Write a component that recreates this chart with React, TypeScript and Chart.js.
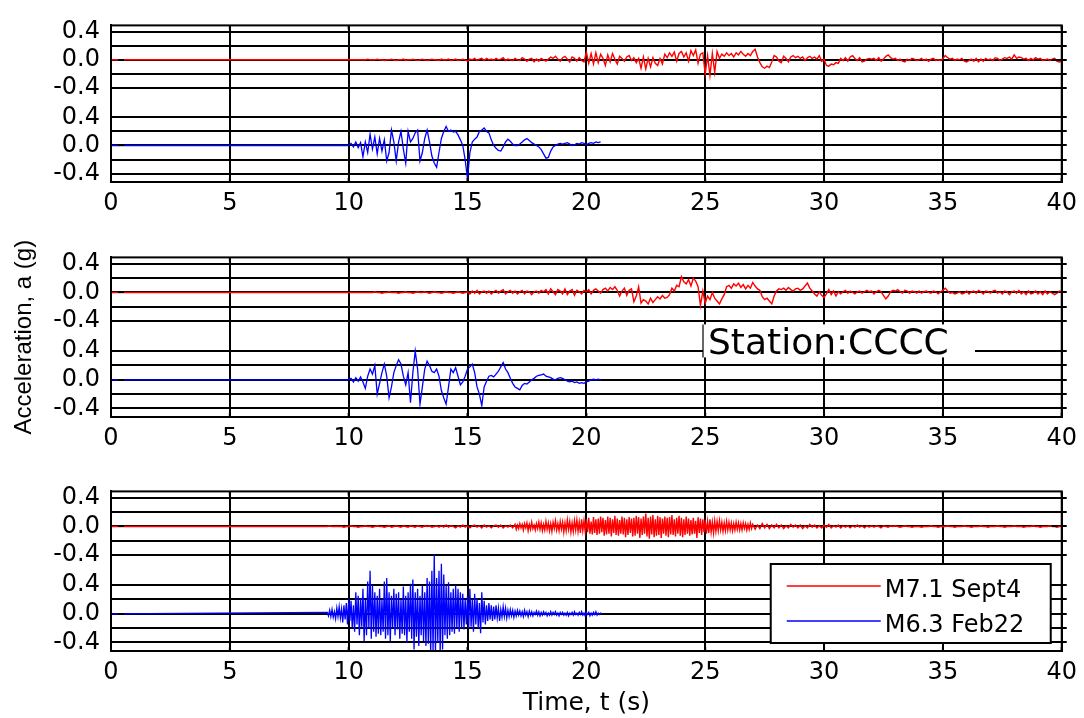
import React, { useEffect, useRef } from "react";
import { Chart, registerables } from "chart.js";

Chart.register(...registerables);

// ---------------- data ----------------
const X_MIN = 0;
const X_MAX = 40;
const X_TICK_STEP = 5;
const Y_MIN = -0.52;
const Y_MAX = 1.71;
const RED_OFFSET = 1.22; // upper (red) band is drawn shifted up by this amount
const BAND_TICKS = [-0.4, -0.2, 0, 0.2, 0.4];
const BAND_TICK_LABELS = ["-0.4", "", "0.0", "", "0.4"];
const SERIES_LABELS = ["M7.1 Sept4", "M6.3 Feb22"];
const SERIES_COLORS = ["#ff0000", "#0000ff"];
const STATION_LABEL = "Station:CCCC";
const X_TITLE = "Time, t (s)";
const Y_TITLE = "Acceleration, a (g)";

// Panel 1 (top)
const p1RedStart = 10.0;
const p1RedStep = 0.1;
const p1Red = [
  0,0,0,0,0,0,0,0,.01,0,
  0,0,.01,0,0,-.01,0,0,.01,0,
  -.01,0,0,.01,-.01,0,0,.01,0,-.01,
  0,.01,0,-.01,0,.01,0,0,-.01,.01,
  0,0,.01,-.01,0,.01,-.01,0,.01,0,
  -.02,.01,0,.02,-.01,.01,.02,-.01,.02,0,
  .01,-.01,.02,0,.01,.03,-.01,.01,0,-.01,
  .02,0,-.01,.03,.01,-.02,.01,.02,-.03,.01,
  -.02,.02,0,-.02,.01,.04,.02,.05,.01,-.02,
  .03,.05,.01,-.03,.04,.02,-.02,.03,-.01,-.03,
  .11,-.05,.09,-.06,.1,-.04,.08,.02,-.08,.07,
  -.03,.09,.01,-.06,.05,.02,-.02,.04,.06,-.01,
  .03,-.04,.02,-.12,.04,-.13,.02,-.1,.03,-.05,
  -.08,.02,-.06,.08,.03,.1,.05,.11,-.02,.09,
  .12,.04,.1,-.02,.13,.06,.14,-.05,.08,.1,
  -.2,.06,-.22,.09,-.18,.12,.02,.08,.05,.1,
  .06,.09,.04,.1,.07,.12,.08,.05,.09,.06,
  .12,.15,.04,-.04,-.1,-.12,-.09,-.11,-.03,.06,
  .04,-.02,-.04,.05,.02,-.03,.04,.06,.03,.05,
  .02,.04,-.01,.03,.05,.02,.04,.01,.06,-.02,
  .01,-.08,-.09,-.06,-.07,-.04,-.05,.02,-.01,.03,
  -.02,.04,.06,.02,-.01,.03,-.03,-.02,.01,.02,
  .01,.02,-.01,.03,-.02,.01,.05,.07,.03,.01,
  .02,-.01,.01,-.02,-.03,.01,-.01,.02,.01,-.01,
  0,.02,-.01,.01,-.02,.01,.02,-.01,0,-.01,
  .02,.06,.03,.01,.02,-.01,.01,0,.02,-.02,
  -.03,-.01,.01,-.02,.02,-.03,.01,-.02,.02,0,
  .01,-.01,.03,.02,-.01,.01,.03,.02,.04,.01,
  .07,.02,.04,.03,.01,.02,-.01,.02,0,.03,
  .01,.02,-.01,0,.01,-.01,.01,.02,-.02,-.03,
  -.02,
];
const p1BlueStart = 10.0;
const p1BlueStep = 0.1;
const p1Blue = [
  0,.03,-.02,.05,-.03,.04,-.16,.05,-.1,.16,
  -.05,.12,-.12,.1,-.08,.08,-.22,-.1,.22,.05,
  -.22,.05,.2,-.05,-.25,.2,.05,.1,.18,.22,
  -.22,-.1,.1,.22,.05,-.15,-.25,-.31,-.1,.1,
  .2,.27,.2,.22,.19,.2,.15,.08,0,-.2,
  -.48,-.1,.05,.09,.12,.2,.22,.25,.2,.18,
  .08,0,-.04,-.07,-.08,-.02,.05,.09,.06,.02,
  0,0,.02,.05,.08,.1,.07,.04,.02,0,
  -.02,-.06,-.12,-.18,-.17,-.08,-.02,0,.02,.03,
  .02,.03,.04,.02,0,.01,.03,.02,.04,.03,
  .01,.03,.04,.03,.05,.04,.05,
];

// Panel 2 (middle)
const p2RedStart = 10.0;
const p2RedStep = 0.1;
const p2Red = [
  0,0,0,0,0,0,0,0,0,0,
  0,.01,0,0,-.01,0,0,.01,0,0,
  0,-.01,0,0,.01,0,0,-.01,0,.01,
  0,0,.01,0,-.01,0,.01,0,0,-.01,
  0,.01,0,0,-.01,0,.01,0,-.01,0,
  .01,-.02,.02,-.01,.03,-.02,.01,.02,-.01,.02,
  -.02,.01,.03,-.01,.02,.04,-.02,.01,.03,-.01,
  .02,-.02,.01,.03,-.02,.02,.01,-.03,.01,.02,
  -.01,.03,.01,.04,-.02,.05,.01,-.03,.04,.02,
  -.02,.05,-.03,.02,.04,-.04,.03,.01,-.02,.03,
  .01,.04,-.02,.03,.05,.02,-.01,.04,.06,.02,
  .07,.04,.08,.03,-.05,.02,.06,-.04,.03,.05,
  -.13,-.05,.08,-.15,-.1,-.12,-.16,-.08,-.14,-.1,
  -.06,-.09,-.04,-.08,-.07,-.03,.06,.02,.1,.08,
  .22,.15,.12,.18,.09,.2,.16,.08,-.18,.02,
  -.15,-.05,-.1,0,-.08,-.12,-.16,-.09,-.03,.08,
  .1,.06,.12,.09,.13,.07,.11,.05,.1,.06,
  .14,.09,.05,.03,-.06,-.1,-.08,-.12,-.16,-.05,
  .02,.05,.04,.06,.03,.07,.04,.02,.05,.06,
  .03,.05,.09,.13,.06,.02,-.02,-.05,.01,-.04,
  -.07,-.02,.04,-.03,.02,-.05,.01,-.02,.01,.03,
  -.01,.02,0,-.02,.01,.02,-.01,.01,.03,.01,
  .02,-.02,.01,.03,.01,-.04,-.09,-.05,.01,.03,
  .02,.04,.01,-.01,.03,.02,-.01,.02,.01,-.01,
  .02,-.01,.01,.02,0,-.01,.02,.01,-.02,.01,
  .03,.06,.02,-.01,0,-.02,-.01,.01,-.02,-.01,
  .02,-.02,.01,.02,-.01,.03,.01,-.02,.02,.01,
  -.01,.02,.03,-.01,.01,-.02,.02,.01,-.03,.01,
  .02,-.01,.03,-.02,.01,-.03,.02,-.02,-.01,.02,
  -.02,.01,-.03,.02,-.02,.01,-.01,-.03,-.01,.02,
  .01,
];
const p2BlueStart = 10.0;
const p2BlueStep = 0.1;
const p2Blue = [
  0,.02,-.03,.03,-.02,.04,-.03,-.12,.05,.15,
  .08,.2,-.2,-.05,.1,.22,.05,-.25,-.1,.1,
  .2,.28,.22,.05,-.07,.1,-.32,.1,.4,.15,
  -.34,-.1,.15,.26,.2,.12,.1,.15,.05,-.15,
  -.25,-.34,-.1,.15,.1,.17,.05,-.07,-.03,.05,
  .15,.18,.22,.1,-.1,-.2,-.36,-.1,-.02,.05,
  .06,.04,.08,.12,.18,.24,.15,.1,.02,-.05,
  -.1,-.12,-.14,-.08,-.05,-.06,-.03,0,.02,.05,
  .06,.07,.08,.05,.04,.03,.01,0,.02,.03,
  .02,0,-.02,-.03,-.02,-.04,-.03,-.05,-.04,-.05,
  -.03,-.02,0,.01,0,.01,0,
];

// Panel 3 (bottom)
const p3RedQuietStart = 9.0;
const p3RedQuietStep = 0.1;
const p3RedQuiet = [
  0,0,.01,0,0,0,0,0,-.01,0,
  0,.01,0,0,-.01,0,0,.01,0,0,
  -.01,0,.01,0,0,-.01,0,.01,-.01,0,
  .01,0,-.01,.01,0,-.01,.01,0,-.01,.01,
  0,-.01,.01,0,.01,-.01,0,.01,-.01,.01,
  -.01,.02,-.01,.01,0,-.02,.01,-.01,.02,-.01,
  .01,-.02,.01,.02,-.01,.01,-.02,.02,-.01,.01,
  -.02,.01,.02,-.01,.02,-.02,.01,-.01,.02,-.02,
];
const p3RedStrongStart = 17.0;
const p3RedStrongStep = 0.05;
const p3RedStrong = [
  .03,-.04,.02,-.03,.04,-.02,.03,-.05,.04,-.02,
  .05,-.06,.03,-.04,.06,-.03,.02,-.05,.04,-.03,
  .06,-.04,.05,-.06,.03,-.05,.07,-.04,.05,-.06,
  .04,-.07,.06,-.03,.08,-.05,.04,-.06,.07,-.04,
  .06,-.08,.05,-.06,.09,-.04,.07,-.08,.05,-.07,
  .08,-.05,.09,-.07,.06,-.09,.1,-.06,.08,-.07,
  .1,-.08,.12,-.1,.07,-.11,.13,-.09,.1,-.12,
  .11,-.1,.14,-.08,.12,-.13,.09,-.11,.14,-.1,
  .12,-.14,.1,-.09,.15,-.12,.11,-.13,.09,-.1,
  .14,-.11,.12,-.15,.1,-.12,.13,-.09,.11,-.14,
  .12,-.13,.15,-.1,.13,-.16,.11,-.12,.14,-.1,
  .18,-.14,.12,-.17,.14,-.11,.16,-.15,.1,-.13,
  .15,-.12,.13,-.16,.11,-.1,.14,-.13,.12,-.15,
  .13,-.11,.16,-.12,.1,-.14,.12,-.1,.15,-.13,
  .12,-.15,.1,-.12,.14,-.1,.11,-.13,.09,-.11,
  .12,-.1,.08,-.16,.13,-.09,.11,-.12,.1,-.08,
  .09,-.1,.07,-.09,.1,-.08,.06,-.09,.08,-.07,
  .07,-.06,.08,-.05,.06,-.07,.05,-.06,.07,-.05,
  .06,-.05,.05,-.06,.04,-.05,.06,-.04,.05,-.05,
  .04,-.05,.05,-.03,.04,-.05,.03,-.04,.05,-.03,
];
const p3RedTailStart = 27.0;
const p3RedTailStep = 0.1;
const p3RedTail = [
  .03,-.04,.02,-.03,.04,-.02,.03,-.03,.02,-.02,
  .03,-.02,.02,-.03,.01,-.02,.03,-.01,.02,-.02,
  .02,-.03,.01,-.02,.03,-.01,.02,-.02,.01,-.02,
  .02,-.01,.03,-.02,.01,-.01,.02,-.02,.01,-.01,
  .01,-.02,.01,-.01,.02,-.01,.01,-.02,.01,-.01,
  .01,-.01,.01,0,-.02,.01,0,-.01,.01,0,
  .01,0,-.01,0,.01,0,0,-.01,0,0,
  0,-.01,0,0,0,.01,0,0,-.01,0,
  0,0,.01,0,0,-.01,0,0,0,.01,
  0,0,-.01,0,0,0,.01,0,0,-.01,
  0,0,0,.01,0,0,-.01,0,0,0,
  .01,0,0,0,-.01,0,0,0,.01,0,
  0,-.01,0,0,0,.01,0,0,-.01,0,
  0,
];
const p3BlueStart = 9.1;
const p3BlueStep = 0.05;
const p3Blue = [
  .02,-.03,.05,-.04,.06,-.05,.03,-.07,.08,-.04,
  .1,-.06,.07,-.12,.12,-.08,.15,-.15,.2,-.1,
  .18,-.2,.12,-.25,.3,-.15,.25,-.3,.22,-.18,
  .35,-.38,.2,-.3,.45,-.2,.6,-.35,.4,-.25,
  .3,-.32,.25,-.28,.35,-.3,.2,-.25,.45,-.35,
  .5,-.3,.3,-.38,.25,-.2,.35,-.3,.28,-.22,
  .3,-.35,.2,-.28,.38,-.3,.25,-.4,.3,-.25,
  .42,-.35,.48,-.5,.3,-.32,.35,-.45,.25,-.3,
  .4,-.38,.3,-.45,.5,-.42,.45,-.55,.6,-.52,
  .83,-.55,.5,-.4,.6,-.55,.7,-.5,.55,-.3,
  .4,-.35,.44,-.3,.3,-.25,.35,-.28,.4,-.2,
  .35,-.25,.3,-.2,.28,-.22,.2,-.15,.25,-.2,
  .35,-.18,.2,-.25,.28,-.15,.22,-.2,.15,-.27,
  .3,-.12,.18,-.15,.12,-.1,.15,-.08,.12,-.1,
  .1,-.08,.12,-.06,.08,-.1,.06,-.05,.1,-.04,
  .08,-.06,.05,-.04,.06,-.03,.05,-.05,.04,-.03,
  .05,-.02,.04,-.03,.03,-.04,.05,-.02,.03,-.04,
  .04,-.02,.03,-.03,.02,-.01,.04,-.02,.03,-.03,
  .02,-.02,.03,-.01,.02,-.03,.01,-.02,.03,-.02,
  .02,-.01,.03,-.02,.01,-.03,.02,-.01,.02,-.02,
  .01,-.02,.02,-.03,.01,-.01,.02,-.02,.03,-.01,
  .01,-.02,.02,-.01,.03,-.02,.01,-.03,.02,-.01,
  .02,-.03,.01,-.02,.02,-.01,.03,-.02,.01,-.01,
  .01,0,
];

// ---------------- helpers ----------------
type Seg = [number, number, number[]];

function tracePoints(segs: Seg[], offset: number) {
  const pts: { x: number; y: number }[] = [{ x: X_MIN, y: offset }];
  segs.forEach(([start, step, vals]) => {
    vals.forEach((v, i) => {
      pts.push({ x: Math.round((start + i * step) * 1000) / 1000, y: v + offset });
    });
  });
  return pts;
}

const PANELS = [
  {
    red: [[p1RedStart, p1RedStep, p1Red]] as Seg[],
    blue: [[p1BlueStart, p1BlueStep, p1Blue]] as Seg[],
  },
  {
    red: [[p2RedStart, p2RedStep, p2Red]] as Seg[],
    blue: [[p2BlueStart, p2BlueStep, p2Blue]] as Seg[],
  },
  {
    red: [
      [p3RedQuietStart, p3RedQuietStep, p3RedQuiet],
      [p3RedStrongStart, p3RedStrongStep, p3RedStrong],
      [p3RedTailStart, p3RedTailStep, p3RedTail],
    ] as Seg[],
    blue: [[p3BlueStart, p3BlueStep, p3Blue]] as Seg[],
  },
];

// layout (pixels)
const LAYOUT = [
  { top: 0, height: 232, padTop: 15, xAxisH: 50, yTitle: false, xTitle: false, station: false, legend: false },
  { top: 232, height: 234, padTop: 15, xAxisH: 49, yTitle: true, xTitle: false, station: true, legend: false },
  { top: 466, height: 252, padTop: 16, xAxisH: 67, yTitle: false, xTitle: true, station: false, legend: true },
];

const Y_TICK_VALUES = [...BAND_TICKS, ...BAND_TICKS.map((v) => v + RED_OFFSET)];
const Y_TICK_LABELS = [...BAND_TICK_LABELS, ...BAND_TICK_LABELS];

const TICK_FONT = { family: "'DejaVu Sans', sans-serif", size: 24 };

const framePlugin = {
  id: "frame",
  afterDraw(chart: any) {
    const { ctx, chartArea: a, scales } = chart;
    ctx.save();
    ctx.strokeStyle = "#000";
    ctx.lineWidth = 2;
    ctx.strokeRect(a.left, a.top, a.right - a.left, a.bottom - a.top);
    ctx.lineWidth = 2;
    ctx.beginPath();
    scales.y.ticks.forEach((t: any) => {
      const py = Math.round(scales.y.getPixelForValue(t.value));
      ctx.moveTo(a.left + 7, py);
      ctx.lineTo(a.left + 13, py);
      ctx.moveTo(a.right - 10, py);
      ctx.lineTo(a.right - 4, py);
      ctx.moveTo(a.right, py);
      ctx.lineTo(a.right + 5, py);
    });
    scales.x.ticks.forEach((t: any) => {
      const px = scales.x.getPixelForValue(t.value);
      ctx.moveTo(px, a.top);
      ctx.lineTo(px, a.top + 4);
      ctx.moveTo(px, a.bottom);
      ctx.lineTo(px, a.bottom - 4);
    });
    ctx.stroke();
    ctx.restore();
  },
};

const stationPlugin = {
  id: "station",
  afterDraw(chart: any) {
    const opts = chart.options.plugins.station;
    if (!opts || !opts.show) return;
    const { ctx, chartArea: a } = chart;
    const left = a.left + 592;
    const top = a.top + 67;
    ctx.save();
    ctx.fillStyle = "#fff";
    ctx.fillRect(left, top, 272, 33);
    ctx.strokeStyle = "#000";
    ctx.lineWidth = 1.2;
    ctx.beginPath();
    ctx.moveTo(left, top);
    ctx.lineTo(left, top + 33);
    ctx.stroke();
    ctx.fillStyle = "#000";
    ctx.font = "36px 'DejaVu Sans', sans-serif";
    ctx.textBaseline = "alphabetic";
    ctx.textAlign = "left";
    ctx.fillText(STATION_LABEL, left + 5, top + 30);
    ctx.restore();
  },
};

const legendPlugin = {
  id: "boxLegend",
  afterDraw(chart: any) {
    const opts = chart.options.plugins.boxLegend;
    if (!opts || !opts.show) return;
    const { ctx, chartArea: a } = chart;
    const w = 280;
    const h = 79;
    const left = a.right - 11 - w;
    const top = a.bottom - 8 - h;
    ctx.save();
    ctx.fillStyle = "#fff";
    ctx.fillRect(left, top, w, h);
    ctx.strokeStyle = "#000";
    ctx.lineWidth = 2;
    ctx.strokeRect(left, top, w, h);
    chart.data.datasets.forEach((ds: any, i: number) => {
      const ly = top + 22 + i * 35;
      ctx.strokeStyle = ds.borderColor;
      ctx.lineWidth = 1.5;
      ctx.beginPath();
      ctx.moveTo(left + 16, ly);
      ctx.lineTo(left + 110, ly);
      ctx.stroke();
      ctx.fillStyle = "#000";
      ctx.font = "24px 'DejaVu Sans', sans-serif";
      ctx.textBaseline = "alphabetic";
      ctx.textAlign = "left";
      ctx.fillText(ds.label, left + 114, ly + 11);
    });
    ctx.restore();
  },
};

function Panel({ index }: { index: number }) {
  const ref = useRef<HTMLCanvasElement | null>(null);
  const lay = LAYOUT[index];
  useEffect(() => {
    if (!ref.current) return;
    const panel = PANELS[index];
    const chart = new Chart(ref.current, {
      type: "line",
      data: {
        datasets: [
          {
            label: SERIES_LABELS[0],
            data: tracePoints(panel.red, RED_OFFSET),
            borderColor: SERIES_COLORS[0],
            borderWidth: 1.4,
            pointRadius: 0,
            tension: 0,
            fill: false,
          },
          {
            label: SERIES_LABELS[1],
            data: tracePoints(panel.blue, 0),
            borderColor: SERIES_COLORS[1],
            borderWidth: 1.3,
            pointRadius: 0,
            tension: 0,
            fill: false,
          },
        ],
      },
      options: {
        animation: false,
        responsive: true,
        maintainAspectRatio: false,
        parsing: false,
        normalized: true,
        events: [],
        layout: { padding: { top: lay.padTop, right: 16, left: 0, bottom: 0 } },
        plugins: {
          legend: { display: false },
          tooltip: { enabled: false },
          station: { show: lay.station },
          boxLegend: { show: lay.legend },
        } as any,
        scales: {
          x: {
            type: "linear",
            min: X_MIN,
            max: X_MAX,
            afterFit: (s: any) => {
              s.height = lay.xAxisH;
            },
            ticks: {
              stepSize: X_TICK_STEP,
              color: "#000",
              font: TICK_FONT,
              padding: 7,
              maxRotation: 0,
              autoSkip: false,
            },
            grid: { color: "#000", lineWidth: 2, drawTicks: false },
            border: { display: true, color: "#000", width: 2 },
            title: {
              display: lay.xTitle,
              text: X_TITLE,
              color: "#000",
              font: { family: "'DejaVu Sans', sans-serif", size: 25 },
              padding: { top: 0, bottom: 0 },
            },
          },
          y: {
            type: "linear",
            min: Y_MIN,
            max: Y_MAX,
            afterFit: (s: any) => {
              s.width = 111;
            },
            afterBuildTicks: (s: any) => {
              s.ticks = Y_TICK_VALUES.map((v) => ({ value: v }));
            },
            ticks: {
              color: "#000",
              font: TICK_FONT,
              padding: 11,
              autoSkip: false,
              callback: (_v: any, i: number) => Y_TICK_LABELS[i],
            },
            grid: { color: "#000", lineWidth: 2, drawTicks: false },
            border: { display: true, color: "#000", width: 2 },
            title: {
              display: lay.yTitle,
              text: Y_TITLE,
              color: "#000",
              font: { family: "'Liberation Sans', Arial, sans-serif", size: 24 },
              padding: { top: 10, bottom: 0 },
            },
          },
        },
      },
      plugins: [framePlugin, stationPlugin, legendPlugin],
    } as any);
    return () => chart.destroy();
  }, [index]);
  return (
    <div style={{ position: "absolute", left: 0, top: lay.top, width: 1084, height: lay.height }}>
      <canvas ref={ref} />
    </div>
  );
}

export default function App() {
  return (
    <div style={{ position: "absolute", left: 0, top: 0, width: 1084, height: 718, background: "#fff" }}>
      <Panel index={0} />
      <Panel index={1} />
      <Panel index={2} />
    </div>
  );
}
